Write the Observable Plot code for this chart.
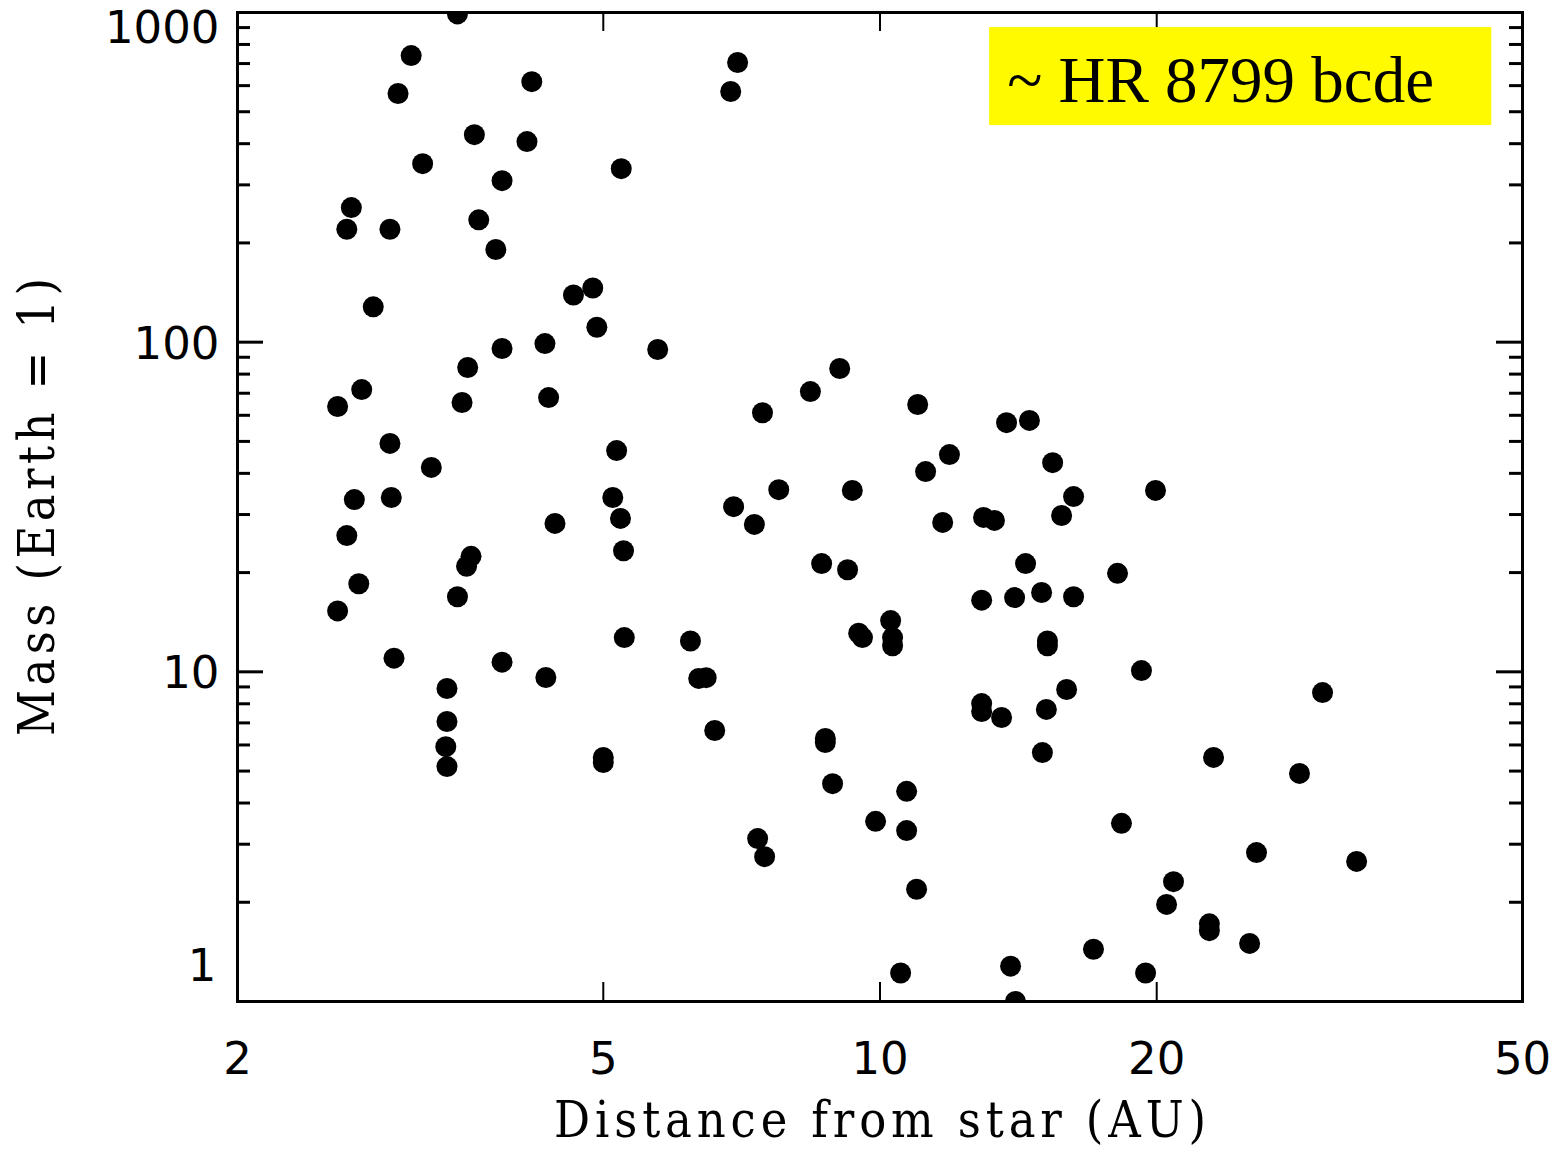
<!DOCTYPE html>
<html>
<head>
<meta charset="utf-8">
<script src="https://cdn.jsdelivr.net/npm/d3@7"></script>
<script src="https://cdn.jsdelivr.net/npm/@observablehq/plot@0.6"></script>
<style>
  html, body { margin: 0; padding: 0; background: #fff; overflow: hidden; }
  svg { display: block; }
</style>
</head>
<body>
<div id="chart"></div>
<script>
// Distance from star (AU) and mass (Earth = 1) of each planet
const distance = [
  3.47, 3.09, 2.99, 4.18, 3.62, 4.13, 3.18, 3.88, 5.23, 2.66,
  2.63, 2.93, 3.66, 3.82, 2.81, 4.64, 4.87, 4.92, 4.32, 3.88,
  5.73, 3.56, 2.73, 2.57, 3.51, 4.36, 2.93, 3.25, 5.17, 2.68,
  2.94, 5.12, 4.43, 5.22, 2.63, 3.59, 3.55, 5.26, 2.71, 3.47,
  2.57, 5.27, 2.96, 3.88, 4.33, 3.38, 3.38, 3.37, 3.38, 5.00,
  5.00, 7.00, 6.88, 7.45, 8.40, 9.04, 6.93, 7.76, 7.30, 9.33,
  8.64, 9.22, 6.22, 6.35, 6.47, 6.61, 9.48, 9.57, 10.27, 10.32,
  10.32, 10.99, 11.21, 11.90, 11.70, 8.72, 8.72, 8.88, 7.36, 7.49,
  9.89, 10.69, 10.69, 10.96, 10.53, 13.73, 14.54, 15.41, 16.24, 15.76,
  12.96, 13.32, 19.94, 14.40, 18.13, 12.90, 14.01, 14.99, 16.24, 15.21,
  15.21, 15.96, 19.25, 12.90, 12.90, 13.56, 15.17, 15.02, 18.31, 20.86,
  20.50, 22.82, 22.82, 25.24, 17.07, 19.45, 13.87, 14.04, 23.06, 28.60,
  30.30, 25.68, 33.00
];
const mass = [
  990, 740, 568, 617, 426, 406, 348, 309, 336, 256,
  220, 220, 235, 191, 128, 139, 146, 111, 99, 95.7,
  95, 83.8, 71.8, 63.8, 65.6, 67.9, 49.3, 41.7, 46.9, 33.3,
  33.8, 33.8, 28.2, 29.2, 25.9, 22.4, 20.9, 23.3, 18.5, 16.9,
  15.3, 12.7, 11.0, 10.7, 9.61, 8.90, 7.07, 5.93, 5.16, 5.50,
  5.31, 705, 576, 61.1, 70.8, 83.2, 31.7, 35.7, 28.0, 35.5,
  21.3, 20.4, 12.4, 9.55, 9.6, 6.64, 13.1, 12.7, 14.3, 12.7,
  12.0, 64.7, 40.5, 45.6, 28.4, 6.28, 6.10, 4.58, 3.12, 2.75,
  3.52, 4.34, 3.30, 2.19, 1.22, 57.0, 57.9, 43.1, 34.0, 29.8,
  29.4, 28.8, 35.5, 21.3, 19.9, 16.5, 16.8, 17.4, 16.9, 12.4,
  12.0, 8.84, 10.09, 8.01, 7.58, 7.27, 7.69, 5.69, 3.47, 2.31,
  1.97, 1.72, 1.64, 1.50, 1.44, 1.22, 1.28, 1.00, 5.50, 4.92,
  8.65, 2.83, 2.66
];

// Axis ticks and labels
const xTickLabels = [2, 5, 10, 20, 50];
const xInnerTicks = [5, 10, 20];
const yMajorTicks = [1, 10, 100, 1000];
const yMinorTicks = [2, 3, 4, 5, 6, 7, 8, 9, 20, 30, 40, 50, 60, 70, 80, 90, 200, 300, 400, 500, 600, 700, 800, 900];
const yMidLabels = [10, 100];
const yBottomLabel = [1];
const yTopLabel = [1000];
const xTitle = ["Distance from star (AU)"];
const yTitle = ["Mass (Earth = 1)"];

// Annotation box
const noteText = ["~ HR 8799 bcde"];
const noteBox = [{x1: 13.16, x2: 46.3, y1: 454, y2: 900}];
const noteAnchor = [{x: 13.75, y: 617}];

const planets = distance.map((d, i) => ({distance: d, mass: mass[i]}));

const W = 1564, H = 1150;
const mL = 237, mR = 42, mT = 12, mB = 149;
const fw = W - mL - mR, fh = H - mT - mB;
const majorLen = 26, minorLen = 13, xTickLen = 19;
const tickFont = "DejaVu Sans";
const titleFont = "'DejaVu Serif Condensed', 'DejaVu Serif', serif";

const chart = Plot.plot({
  width: W,
  height: H,
  marginLeft: mL,
  marginRight: mR,
  marginTop: mT,
  marginBottom: mB,
  style: {background: "white", color: "black"},
  x: {type: "log", domain: [2, 50], axis: null},
  y: {type: "log", domain: [1, 1000], axis: null},
  marks: [
    Plot.dot(planets, {x: "distance", y: "mass", r: 10.5, fill: "black", stroke: "none", clip: true}),
    // y ticks, left and right, pointing inward
    Plot.tickY(yMajorTicks, {y: d => d, stroke: "black", strokeWidth: 3, insetRight: fw - majorLen}),
    Plot.tickY(yMinorTicks, {y: d => d, stroke: "black", strokeWidth: 3, insetRight: fw - minorLen}),
    Plot.tickY(yMajorTicks, {y: d => d, stroke: "black", strokeWidth: 3, insetLeft: fw - majorLen}),
    Plot.tickY(yMinorTicks, {y: d => d, stroke: "black", strokeWidth: 3, insetLeft: fw - minorLen}),
    // x ticks, bottom and top, pointing inward
    Plot.tickX(xInnerTicks, {x: d => d, stroke: "black", strokeWidth: 2, insetTop: fh - xTickLen}),
    Plot.tickX(xInnerTicks, {x: d => d, stroke: "black", strokeWidth: 2, insetBottom: fh - xTickLen}),
    Plot.frame({stroke: "black", strokeWidth: 3}),
    // annotation
    Plot.rect(noteBox, {x1: "x1", x2: "x2", y1: "y1", y2: "y2", fill: "#fffa00"}),
    Plot.text(noteAnchor, {x: "x", y: "y", text: () => noteText[0], textAnchor: "start", lineAnchor: "middle",
      fontFamily: "Liberation Serif", fontSize: 65, fill: "black"}),
    // y tick labels
    Plot.text(yMidLabels, {y: d => d, text: d => String(d), frameAnchor: "left", textAnchor: "end",
      dx: -18, dy: 2, fontFamily: tickFont, fontSize: 45, fill: "black"}),
    Plot.text(yBottomLabel, {y: d => d, text: d => String(d), frameAnchor: "left", textAnchor: "end",
      dx: -21, dy: -35, fontFamily: tickFont, fontSize: 45, fill: "black"}),
    Plot.text(yTopLabel, {y: d => d, text: d => String(d), frameAnchor: "left", textAnchor: "end",
      dx: -18, dy: 16, fontFamily: tickFont, fontSize: 45, fill: "black"}),
    // x tick labels
    Plot.text(xTickLabels, {x: d => d, text: d => String(d), frameAnchor: "bottom", lineAnchor: "top",
      dy: 41, fontFamily: tickFont, fontSize: 45, fill: "black"}),
    // axis titles
    Plot.text(xTitle, {text: d => d, frameAnchor: "bottom", textAnchor: "middle", lineAnchor: "middle", dy: 119,
      fontFamily: titleFont, fontSize: 50, fill: "black"}),
    Plot.text(yTitle, {text: d => d, frameAnchor: "left", textAnchor: "middle", lineAnchor: "middle", rotate: -90, dx: -200,
      fontFamily: titleFont, fontSize: 50, fill: "black"})
  ]
});

// stretch the axis titles to the wide letter spacing seen in the reference
const stretch = {[xTitle[0]]: 652, [yTitle[0]]: 458};
d3.select(chart).selectAll("text")
  .filter(function () { return stretch[this.textContent] !== undefined; })
  .each(function () {
    d3.select(this).attr("textLength", stretch[this.textContent]).attr("lengthAdjust", "spacing");
  });

document.getElementById("chart").appendChild(chart);
</script>
</body>
</html>
